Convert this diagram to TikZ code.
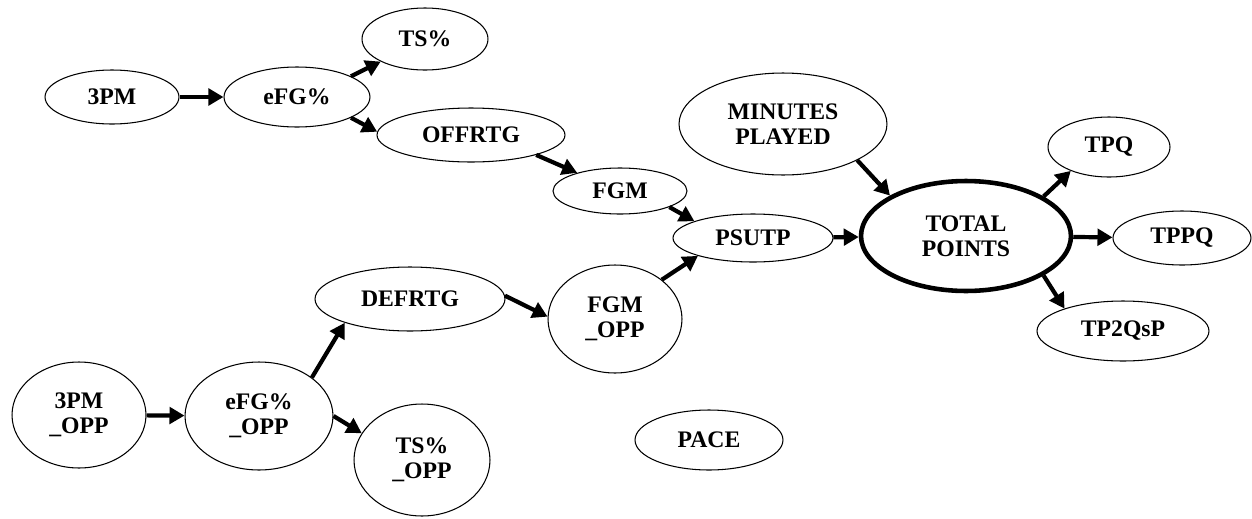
\documentclass[tikz,border=0pt]{standalone}
\usepackage{fontspec}
\setmainfont{Liberation Serif}
\usetikzlibrary{shapes.geometric,arrows.meta}

\begin{document}
\begin{tikzpicture}[
x=0.02cm, y=-0.02cm,
varnode/.style={
  draw,
  ellipse,
  line width=0.6pt,
  inner sep=0pt,
  align=center,
  font=\bfseries\fontsize{13.5}{14.5}\selectfont
  },
keynode/.style={varnode, line width=2.6pt},
link/.style={-{Triangle[length=0.3cm,width=0.33cm]}, line width=2.4pt}
]
\useasboundingbox (0,0) rectangle (1252,518);
\foreach \Name/\Pos/\W/\H/\Text in {
  threepm/{(112,97)}/2.68/1.08/3PM,
  efg/{(297,97)}/2.92/1.2/eFG\%,
  ts/{(425,39)}/2.52/1.24/TS\%,
  offrtg/{(471,135)}/3.76/1.08/OFFRTG,
  fgm/{(620,191)}/2.68/0.92/FGM,
  psutp/{(753,238)}/3.2/0.96/PSUTP,
  minutes/{(783,124)}/4.16/2.04/MINUTES\\PLAYED,
  tpq/{(1109,147)}/2.44/1.2/TPQ,
  tppq/{(1182,238)}/2.76/1.08/TPPQ,
  tpqsp/{(1123,331)}/3.44/1.2/TP2QsP,
  defrtg/{(410,299)}/3.8/1.28/DEFRTG,
  fgmopp/{(615,319)}/2.68/2.16/FGM\\\_OPP,
  threepmopp/{(79,415)}/2.68/2.12/3PM\\\_OPP,
  efgopp/{(259,416)}/2.96/2.16/eFG\%\\\_OPP,
  tsopp/{(422,460)}/2.72/2.24/TS\%\\\_OPP,
  pace/{(709,440)}/2.96/1.2/PACE}
  \node[varnode, minimum width=\W cm, minimum height=\H cm] (\Name) at \Pos {\Text};
\node[keynode, minimum width=4.2cm, minimum height=2.2cm] (total) at (966,236) {TOTAL\\POINTS};
\path[link]
  (threepm) edge (efg)
  (efg.21) edge (ts.207)
  (efg.339) edge (offrtg.178)
  (offrtg.343) edge (fgm.157)
  (fgm.342) edge (psutp.164)
  (fgmopp.40) edge (psutp.198)
  (psutp) edge (total)
  (minutes.334) edge (total.152)
  (total.27) edge (tpq.212)
  (total) edge (tppq)
  (total.333) edge (tpqsp.159)
  (threepmopp) edge (efgopp)
  (efgopp.36) edge (defrtg.200)
  (efgopp.0) edge (tsopp.156)
  (defrtg.2) edge (fgmopp.178);
\end{tikzpicture}
\end{document}
